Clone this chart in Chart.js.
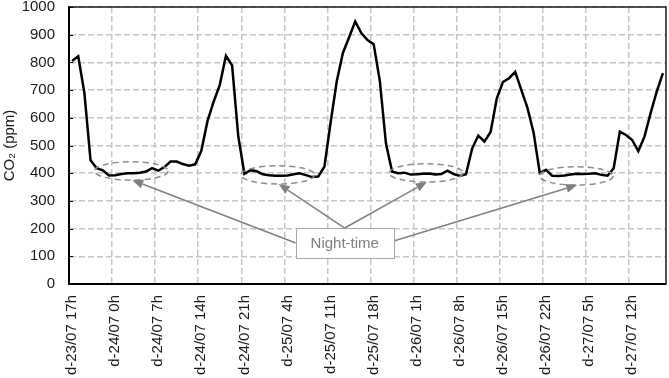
<!DOCTYPE html>
<html>
<head>
<meta charset="utf-8">
<script src="https://cdn.jsdelivr.net/npm/chart.js@4.4.1/dist/chart.umd.min.js"></script>
<style>
  html, body { margin: 0; padding: 0; background: #fff; }
  canvas { display: block; }
</style>
</head>
<body>
<canvas id="chart" width="669" height="378"></canvas>
<script>
// hourly CO2 readings, d-23/07 17h -> d-27/07 17h
const startDay = 23;
const startHour = 17;
const co2 = [
  805, 822, 690, 447, 418, 410, 392, 393, 397, 400,
  400, 402, 406, 418, 409, 422, 442, 442, 433, 427,
  432, 481, 588, 658, 719, 824, 789, 534, 398, 411,
  407, 396, 393, 391, 391, 392, 396, 400, 393, 386,
  388, 424, 582, 731, 834, 890, 948, 906, 881, 866,
  734, 507, 405, 400, 402, 395, 396, 398, 399, 395,
  397, 409, 397, 390, 396, 489, 536, 514, 549, 669,
  729, 743, 766, 700, 635, 545, 400, 412, 391, 390,
  392, 395, 398, 397, 398, 400, 394, 391, 418, 550,
  538, 520, 480, 532, 617, 695, 761,
];
const hours = co2.map((_, i) => {
  const t = startHour + i;
  return "d-" + (startDay + Math.floor(t / 24)) + "/07 " + (t % 24) + "h";
});
const labelEvery = 7;
const yTicks = { min: 0, max: 1000, step: 100 };

// night-time call-outs: centre (hour index, ppm) of each dashed ellipse
const nightSpots = [
  { at: 9.6, level: 408 },
  { at: 33.4, level: 394 },
  { at: 57.5, level: 401 },
  { at: 81.9, level: 390 },
];
const nightFrom = ["left", "top", "top", "right"];
const noteText = "Night-time";
const noteAt = { at: 44.3, level: 148 };

const font = "'Liberation Sans', Arial, sans-serif";
const gridColor = "#c6c6c6";

const frame = {
  id: "frame",
  afterDatasetsDraw(chart) {
    const { ctx, chartArea: a, scales } = chart;
    ctx.save();
    ctx.strokeStyle = "#1a1a1a";
    ctx.lineWidth = 1.5;
    ctx.beginPath();
    ctx.moveTo(a.left, a.top);
    ctx.lineTo(a.right, a.top);
    ctx.lineTo(a.right, a.bottom);
    ctx.stroke();
    // small inward ticks on the value axis
    ctx.lineWidth = 1.2;
    ctx.strokeStyle = "#000";
    ctx.beginPath();
    scales.y.ticks.forEach((t) => {
      const y = Math.round(scales.y.getPixelForValue(t.value)) + 0.5;
      ctx.moveTo(a.left, y);
      ctx.lineTo(a.left + 4, y);
    });
    ctx.stroke();
    ctx.restore();
  },
};

const callouts = {
  id: "callouts",
  afterDraw(chart) {
    const { ctx, scales } = chart;
    const x = scales.x, y = scales.y;
    const spanX = 6, spanY = 33;
    const boxW = 98, boxH = 30;
    const bx = x.getPixelForValue(noteAt.at);
    const by = y.getPixelForValue(noteAt.level);
    const tails = {
      left: [bx - boxW / 2, by],
      top: [bx, by - boxH / 2],
      right: [bx + boxW / 2, by - 2],
    };
    ctx.save();
    nightSpots.forEach((s, i) => {
      const cx = x.getPixelForValue(s.at);
      const cy = y.getPixelForValue(s.level);
      const rx = x.getPixelForValue(s.at + spanX) - cx;
      const ry = y.getPixelForValue(s.level - spanY) - cy;
      ctx.setLineDash([6, 4]);
      ctx.strokeStyle = "#8c8c8c";
      ctx.lineWidth = 1.5;
      ctx.beginPath();
      ctx.ellipse(cx, cy, rx, ry, 0, 0, Math.PI * 2);
      ctx.stroke();

      // arrow from the note box to the bottom of the ellipse
      ctx.setLineDash([]);
      const [tx, ty] = tails[nightFrom[i]];
      const hx = cx + 1, hy = cy + ry;
      const ang = Math.atan2(hy - ty, hx - tx);
      const len = 11, half = 4.5;
      const bxh = hx - len * Math.cos(ang), byh = hy - len * Math.sin(ang);
      ctx.strokeStyle = "#808080";
      ctx.lineWidth = 1.5;
      ctx.beginPath();
      ctx.moveTo(tx, ty);
      ctx.lineTo(bxh, byh);
      ctx.stroke();
      ctx.fillStyle = "#808080";
      ctx.beginPath();
      ctx.moveTo(hx, hy);
      ctx.lineTo(bxh + half * Math.sin(ang), byh - half * Math.cos(ang));
      ctx.lineTo(bxh - half * Math.sin(ang), byh + half * Math.cos(ang));
      ctx.closePath();
      ctx.fill();
    });

    ctx.fillStyle = "#fff";
    ctx.fillRect(bx - boxW / 2, by - boxH / 2, boxW, boxH);
    ctx.strokeStyle = "#a6a6a6";
    ctx.lineWidth = 1;
    ctx.strokeRect(Math.round(bx - boxW / 2) + 0.5, Math.round(by - boxH / 2) + 0.5, boxW, boxH);
    ctx.fillStyle = "#7f7f7f";
    ctx.font = "15px " + font;
    ctx.textAlign = "center";
    ctx.textBaseline = "middle";
    ctx.fillText(noteText, bx, by + 1);
    ctx.restore();
  },
};

new Chart(document.getElementById("chart"), {
  type: "line",
  data: {
    labels: hours,
    datasets: [
      {
        data: co2,
        borderColor: "#000",
        borderWidth: 2.5,
        pointRadius: 0,
        tension: 0,
        fill: false,
      },
    ],
  },
  options: {
    responsive: false,
    animation: false,
    devicePixelRatio: 1,
    layout: { padding: { top: 7, right: 3, left: 0, bottom: 0 } },
    plugins: { legend: { display: false }, tooltip: { enabled: false } },
    scales: {
      x: {
        offset: true,
        grid: {
          display: true,
          drawOnChartArea: true,
          offset: true,
          drawTicks: false,
          lineWidth: 1.5,
          color: (c) => (c.index % labelEvery === 0 ? gridColor : "rgba(0,0,0,0)"),
        },
        border: { display: true, color: "#000", width: 2, dash: [6, 3] },
        ticks: {
          autoSkip: false,
          minRotation: 90,
          maxRotation: 90,
          padding: 11,
          color: "#1a1a1a",
          font: { family: font, size: 15 },
          callback: function (v, i) {
            return i % labelEvery === 0 ? this.getLabelForValue(v) : "";
          },
        },
        afterFit(s) {
          s.height = 94;
          s.paddingLeft = 0;
          s.paddingRight = 0;
        },
      },
      y: {
        min: yTicks.min,
        max: yTicks.max,
        grid: {
          display: true,
          drawOnChartArea: true,
          drawTicks: false,
          lineWidth: 1.5,
          color: gridColor,
        },
        border: { display: true, color: "#000", width: 2, dash: [6, 3] },
        ticks: {
          stepSize: yTicks.step,
          padding: 14,
          color: "#1a1a1a",
          font: { family: font, size: 15 },
          callback: (v) => String(v),
        },
        title: {
          display: true,
          text: "CO\u2082 (ppm)",
          color: "#1a1a1a",
          font: { family: font, size: 15 },
          padding: { top: 1, bottom: 0 },
        },
        afterFit(s) {
          s.width = 69;
          s.paddingTop = 0;
          s.paddingBottom = 0;
        },
      },
    },
  },
  plugins: [frame, callouts],
});
</script>
</body>
</html>
